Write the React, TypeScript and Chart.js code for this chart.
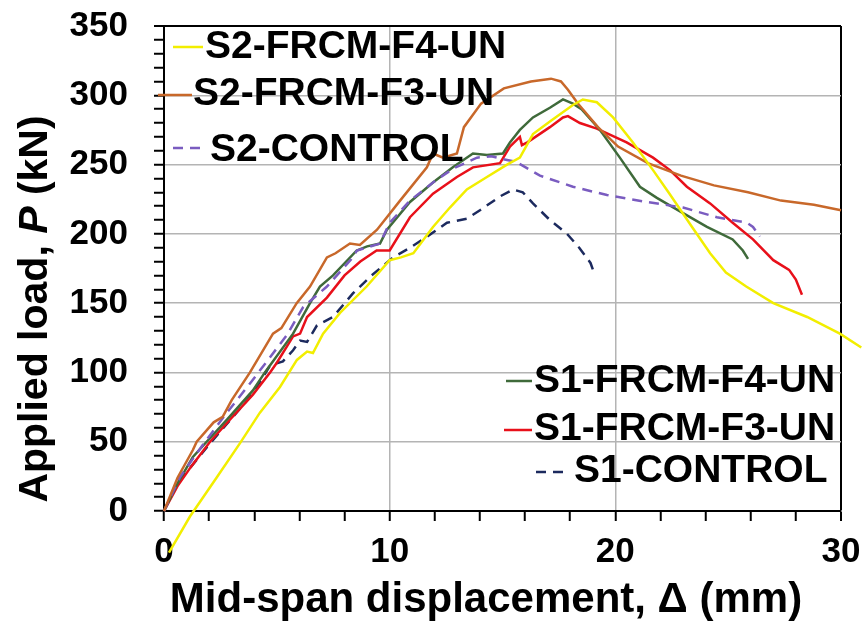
import React, { useEffect, useRef } from 'react';
import { Chart, registerables } from 'chart.js';

Chart.register(...registerables);

const FONT = '"Liberation Sans", Arial, Helvetica, sans-serif';

// ---- Data (mm, kN) ----
const seriesNames = ['S2-FRCM-F4-UN', 'S2-FRCM-F3-UN', 'S2-CONTROL', 'S1-FRCM-F4-UN', 'S1-FRCM-F3-UN', 'S1-CONTROL'];

const s2F4X = [0.22, 1.15, 2.35, 3.37, 4.25, 5.14, 5.89, 6.34, 6.6, 7.05, 7.8, 8.98, 10.0, 10.5, 11.05, 11.92, 12.67, 13.42, 14.31, 15.2, 15.77, 16.35, 17.1, 18.12, 18.56, 19.18, 19.9, 20.78, 21.67, 22.4, 23.4, 24.2, 24.9, 25.8, 27.0, 28.5, 29.95, 30.9];
const s2F4Y = [-30, -4, 24.5, 49, 71, 89.5, 109, 115, 114, 128, 143, 162, 181, 183, 186, 205, 219, 232, 241, 250, 255, 272, 281, 293, 297, 295, 284, 266, 246, 229, 205, 186, 172, 162, 150, 140, 128, 118];

const s2F3X = [0, 0.6, 1.28, 1.45, 2.2, 2.6, 3.0, 3.81, 4.83, 5.2, 5.88, 6.47, 7.22, 7.6, 8.24, 8.68, 9.44, 10.46, 11.65, 11.92, 12.36, 12.98, 13.29, 14.05, 15.06, 16.26, 17.15, 17.59, 17.9, 18.34, 19.23, 20.12, 21.44, 22.91, 24.37, 25.88, 27.34, 28.8, 30];
const s2F3Y = [0, 24, 44, 50, 64, 68, 80, 100, 128, 132, 150, 162, 183, 186, 193, 192, 203, 224, 248, 258, 255, 258, 277, 294, 305, 310, 312, 310, 304, 294, 277, 263, 251, 242, 235, 230, 224, 221, 217];

const s2CX = [0, 0.71, 1.73, 2.79, 3.81, 4.7, 5.45, 6.16, 7.22, 8.37, 8.55, 9.57, 10.0, 10.9, 11.92, 12.8, 13.87, 14.5, 15.0, 15.6, 16.66, 18.12, 19.63, 21.4, 23.0, 24.5, 25.83, 26.1, 26.4];
const s2CY = [0, 24.5, 48, 71, 92, 111, 127, 147, 162, 183, 188, 193, 208, 224, 237, 247, 255, 256, 254, 252, 242, 234, 228, 223, 219, 212, 208, 205, 198];

const s1F4X = [0, 0.6, 1.28, 1.89, 2.79, 3.94, 4.47, 5.72, 6.47, 6.91, 7.49, 8.54, 9.0, 9.57, 9.88, 10.9, 11.92, 12.8, 13.69, 14.31, 15.02, 15.33, 15.77, 16.35, 17.1, 17.68, 18.12, 18.5, 19.32, 20.2, 21.09, 21.84, 23.0, 24.06, 25.2, 25.65, 25.88];
const s1F4Y = [0, 20, 39, 50, 66, 87, 100, 128, 150, 162, 170, 188, 191, 193, 203, 223, 237, 248, 258, 257, 258, 266, 275, 284, 291, 297, 294, 290, 275, 255, 234, 226, 215, 205, 196, 188, 182];

const s1F3X = [0, 0.6, 1.2, 2.04, 2.92, 3.94, 4.7, 5.0, 5.72, 6.03, 6.34, 7.22, 8.0, 8.7, 9.42, 10.0, 10.9, 11.92, 12.98, 13.69, 14.89, 15.33, 15.77, 15.86, 16.1, 17.1, 17.68, 17.9, 18.43, 19.18, 20.5, 21.67, 22.42, 23.17, 24.2, 25.2, 26.1, 27.0, 27.7, 28.0, 28.27];
const s1F3Y = [0, 18, 32, 50, 66, 84, 100, 107, 126, 128, 140, 154, 170, 180, 188, 188, 212, 229, 241, 248, 251, 263, 270, 264, 266, 277, 284, 285, 280, 276, 266, 255, 246, 234, 222, 208, 196, 181, 174, 167, 156];

const s1CX = [0, 0.6, 1.3, 2.0, 2.9, 3.9, 4.7, 5.27, 5.72, 6.03, 6.34, 6.78, 7.49, 8.37, 9.2, 10.15, 10.9, 11.65, 12.54, 13.42, 14.0, 14.89, 15.46, 15.9, 16.35, 17.1, 17.86, 18.4, 18.9, 19.1];
const s1CY = [0, 20, 34, 48, 65, 84, 105, 108, 116, 123, 122, 134, 140, 157, 170, 183, 190, 198, 208, 211, 217, 227, 232, 230, 222, 210, 200, 190, 179, 170];

const xTickLabels = [0, 10, 20, 30];
const yTickLabels = [0, 50, 100, 150, 200, 250, 300, 350];

const xTitle = 'Mid-span displacement, \u0394 (mm)';
const yTitleParts = ['Applied load, ', 'P', ' (kN)'];

// ---- Styles ----
const seriesStyles = [
  { color: '#f2ee00', dash: [] as number[] },
  { color: '#c8682a', dash: [] as number[] },
  { color: '#7a5cc0', dash: [10, 7] },
  { color: '#3f6a3a', dash: [] as number[] },
  { color: '#e8101a', dash: [] as number[] },
  { color: '#1c2a5e', dash: [10, 7] },
];

const legendLayout = [
  { x1: 173, x2: 203, y: 47, tx: 205, ty: 47 },
  { x1: 158, x2: 192, y: 95, tx: 193, ty: 94 },
  { x1: 173, x2: 205, y: 148, tx: 210, ty: 150 },
  { x1: 506, x2: 532, y: 381, tx: 534, ty: 381 },
  { x1: 504, x2: 532, y: 430, tx: 534, ty: 429 },
  { x1: 536, x2: 570, y: 472, tx: 574, ty: 471 },
];

const seriesX = [s2F4X, s2F3X, s2CX, s1F4X, s1F3X, s1CX];
const seriesY = [s2F4Y, s2F3Y, s2CY, s1F4Y, s1F3Y, s1CY];

const decorPlugin = {
  id: 'decor',
  afterDatasetsDraw(chart: any) {
    const ctx = chart.ctx as CanvasRenderingContext2D;
    ctx.save();
    ctx.font = `bold 39px ${FONT}`;
    ctx.textAlign = 'left';
    ctx.textBaseline = 'middle';
    chart.data.datasets.forEach((ds: any, i: number) => {
      const L = legendLayout[i];
      ctx.strokeStyle = ds.borderColor;
      ctx.lineWidth = 2.5;
      ctx.setLineDash(ds.borderDash || []);
      ctx.beginPath();
      ctx.moveTo(L.x1, L.y);
      ctx.lineTo(L.x2, L.y);
      ctx.stroke();
      ctx.setLineDash([]);
      ctx.fillStyle = '#000';
      ctx.fillText(ds.label, L.tx, L.ty);
    });
    ctx.restore();
  },
  afterDraw(chart: any) {
    const ctx = chart.ctx as CanvasRenderingContext2D;
    ctx.save();
    ctx.fillStyle = '#000';
    ctx.font = `bold 42px ${FONT}`;
    ctx.textAlign = 'center';
    ctx.textBaseline = 'alphabetic';
    ctx.fillText(xTitle, 486, 612);
    const fonts = [`bold 41px ${FONT}`, `italic bold 41px ${FONT}`, `bold 41px ${FONT}`];
    const widths = yTitleParts.map((t, i) => { ctx.font = fonts[i]; return ctx.measureText(t).width; });
    const total = widths.reduce((a, b) => a + b, 0);
    ctx.translate(47, 309);
    ctx.rotate(-Math.PI / 2);
    ctx.textAlign = 'left';
    let x = -total / 2;
    yTitleParts.forEach((t, i) => {
      ctx.font = fonts[i];
      ctx.fillText(t, x, 0);
      x += widths[i];
    });
    ctx.restore();
  },
};

export default function App() {
  const ref = useRef<HTMLCanvasElement | null>(null);
  useEffect(() => {
    document.body.style.margin = '0';
    const canvas = ref.current;
    if (!canvas) return;
    const datasets = seriesNames.map((name, i) => ({
      label: name,
      data: seriesX[i].map((x, j) => ({ x, y: seriesY[i][j] })),
      borderColor: seriesStyles[i].color,
      backgroundColor: seriesStyles[i].color,
      borderDash: seriesStyles[i].dash,
      borderWidth: 2.5,
      pointRadius: 0,
      showLine: true,
      fill: false,
      tension: 0,
      clip: false as any,
    }));
    const chart = new Chart(canvas, {
      type: 'scatter',
      data: { datasets },
      plugins: [decorPlugin],
      options: {
        responsive: false,
        animation: false,
        devicePixelRatio: 1,
        layout: { padding: { top: 26, right: 21, left: 0, bottom: 0 } },
        plugins: { legend: { display: false }, tooltip: { enabled: false }, title: { display: false } },
        scales: {
          x: {
            type: 'linear',
            min: 0,
            max: 30,
            afterFit: (s: any) => { s.height = 115; s.paddingLeft = 0; s.paddingRight = 0; },
            ticks: {
              stepSize: 2,
              autoSkip: false,
              maxRotation: 0,
              padding: 10,
              color: '#000',
              font: { family: FONT, size: 35, weight: 'bold' },
              callback: (v: any) => (xTickLabels.includes(Number(v)) ? String(v) : ''),
            },
            grid: {
              drawTicks: true,
              tickLength: 10,
              tickWidth: 2,
              tickColor: '#000',
              color: (c: any) => (c.tick && c.tick.value === 30 ? '#000' : c.tick && c.tick.value % 10 === 0 && c.tick.value !== 0 ? '#b4b4b4' : 'rgba(0,0,0,0)'),
              lineWidth: (c: any) => (c.tick && c.tick.value === 30 ? 2 : 1.5),
            },
            border: { display: true, color: '#000', width: 2 },
          },
          y: {
            type: 'linear',
            min: 0,
            max: 350,
            afterFit: (s: any) => { s.width = 164; s.paddingTop = 0; s.paddingBottom = 0; },
            ticks: {
              stepSize: 10,
              autoSkip: false,
              padding: 26,
              color: '#000',
              font: { family: FONT, size: 35, weight: 'bold' },
              callback: (v: any) => (yTickLabels.includes(Number(v)) ? String(v) : ''),
            },
            grid: {
              drawTicks: true,
              tickLength: 10,
              tickWidth: 2,
              tickColor: '#000',
              color: (c: any) => (c.tick && c.tick.value === 350 ? '#000' : c.tick && c.tick.value % 50 === 0 && c.tick.value !== 0 ? '#b4b4b4' : 'rgba(0,0,0,0)'),
              lineWidth: (c: any) => (c.tick && c.tick.value === 350 ? 2 : 1.5),
            },
            border: { display: true, color: '#000', width: 2 },
          },
        },
      } as any,
    });
    return () => chart.destroy();
  }, []);
  return <canvas ref={ref} width={862} height={626} style={{ display: 'block' }} />;
}
